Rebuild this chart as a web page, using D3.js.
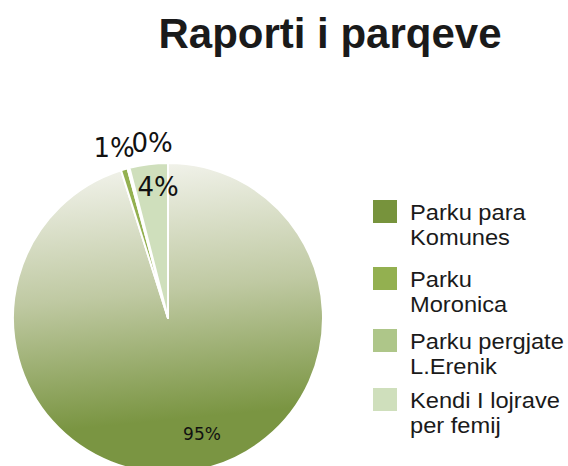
<!DOCTYPE html>
<html><head><meta charset="utf-8">
<script src="https://cdn.jsdelivr.net/npm/d3@7"></script>
<style>body{margin:0;background:#fff;overflow:hidden}</style>
</head><body>
<svg id="c" width="568" height="466"></svg>
<script>
const title = "Raporti i parqeve";
const categories = ["Parku para Komunes", "Parku Moronica", "Parku pergjate L.Erenik", "Kendi I lojrave per femij"];
const legendLines = [["Parku para", "Komunes"], ["Parku", "Moronica"], ["Parku pergjate", "L.Erenik"], ["Kendi I lojrave", "per femij"]];
const values = [95.1, 0.7, 0.2, 4.0];
const labels = ["95%", "1%", "0%", "4%"];
const colors = ["#77933c", "#93b050", "#aec689", "#cfdfbc"];

const svg = d3.select("#c");
const cx = 168, cy = 318, r = 155;

const defs = svg.append("defs");
const grad = defs.append("linearGradient").attr("id", "g0")
  .attr("gradientUnits", "userSpaceOnUse")
  .attr("x1", -r * 0.08).attr("y1", -r).attr("x2", r * 0.08).attr("y2", r * 0.65);
grad.append("stop").attr("offset", "0").attr("stop-color", "#f1f2ea");
grad.append("stop").attr("offset", "0.5").attr("stop-color", "#bfc9a2");
grad.append("stop").attr("offset", "1").attr("stop-color", "#7a9542");

svg.append("text").attr("x", 330).attr("y", 48).attr("text-anchor", "middle")
  .attr("font-family", "Liberation Sans, Arial, sans-serif").attr("font-weight", "bold")
  .attr("font-size", 42).attr("fill", "#1a1a1a").text(title);

const pie = d3.pie().sort(null).value(d => d)(values);
const arc = d3.arc().innerRadius(0).outerRadius(r);
const g = svg.append("g").attr("transform", `translate(${cx},${cy})`);
g.selectAll("path").data(pie).join("path")
  .attr("d", arc)
  .attr("fill", (d, i) => i === 0 ? "url(#g0)" : colors[i])
  .attr("stroke", "#fff").attr("stroke-width", 2).attr("stroke-linejoin", "round");

// labels (positions relative to center)
const labelX = [202, 114, 152, 158];
const labelY = [440, 157, 152, 196];
const labelSize = [17, 26, 26, 26];
g.selectAll("text.l").data(pie).join("text").attr("class", "l")
  .attr("font-family", "DejaVu Sans, sans-serif")
  .attr("fill", "#111")
  .attr("font-size", (d, i) => labelSize[i])
  .attr("text-anchor", "middle")
  .attr("x", (d, i) => labelX[i] - cx)
  .attr("y", (d, i) => labelY[i] - cy)
  .text((d, i) => labels[i]);

// legend
const lg = svg.append("g");
const ly = [200, 267, 329, 388];
categories.forEach((c, i) => {
  lg.append("rect").attr("x", 373).attr("y", ly[i]).attr("width", 24).attr("height", 23).attr("fill", colors[i]);
  legendLines[i].forEach((t, j) => {
    const tx = lg.append("text").attr("x", 410).attr("y", ly[i] + 20 + j * 25)
      .attr("font-family", "Liberation Sans, Arial, sans-serif").attr("font-size", 22)
      .attr("fill", "#1a1a1a").text(t);
    const w = tx.node().getComputedTextLength();
    tx.attr("textLength", w * 1.075).attr("lengthAdjust", "spacingAndGlyphs");
  });
});
</script>
</body></html>
